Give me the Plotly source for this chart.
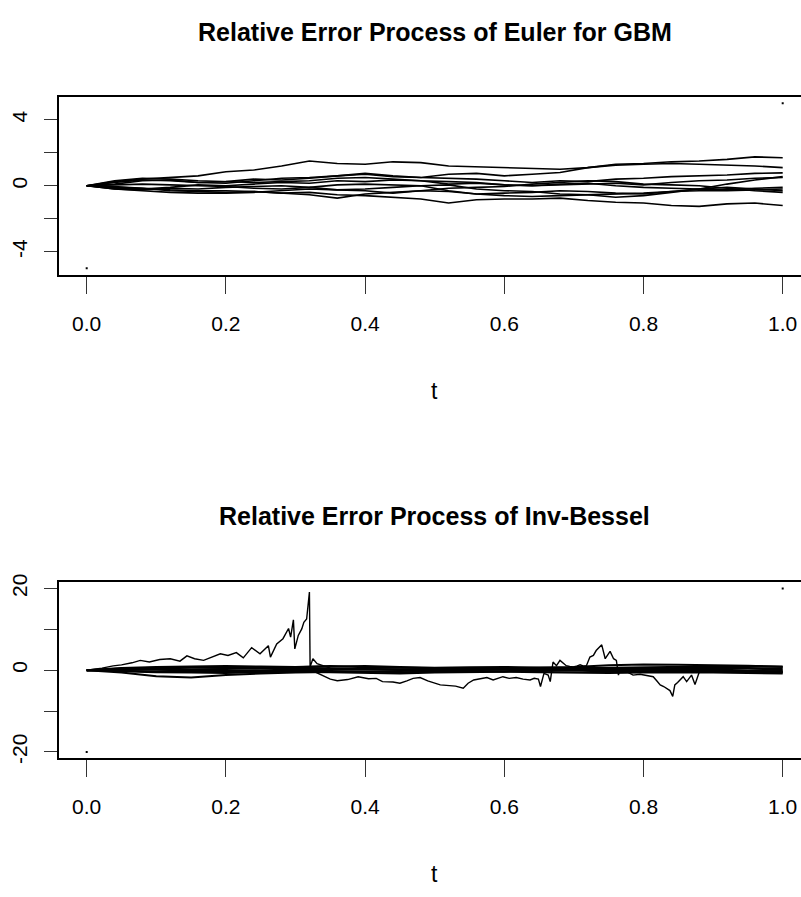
import plotly.graph_objects as go

# ---------------- data: top panel (Euler for GBM) ----------------
T_TOP = [0, 0.04, 0.08, 0.12, 0.16, 0.2, 0.24, 0.28, 0.32, 0.36, 0.4, 0.44, 0.48,
         0.52, 0.56, 0.6, 0.64, 0.68, 0.72, 0.76, 0.8, 0.84, 0.88, 0.92, 0.96, 1.0]
EULER_P1 = [0, 0.25, 0.4, 0.5, 0.6, 0.85, 0.95, 1.2, 1.5, 1.35, 1.3, 1.45, 1.4, 1.2, 1.15, 1.1, 1.05, 1.0, 1.1, 1.3, 1.35, 1.45, 1.5, 1.6, 1.75, 1.7]
EULER_P2 = [0, 0.1, 0.3, 0.35, 0.2, 0.25, 0.4, 0.35, 0.45, 0.6, 0.7, 0.55, 0.5, 0.7, 0.75, 0.6, 0.7, 0.8, 1.1, 1.25, 1.3, 1.35, 1.3, 1.25, 1.2, 1.1]
EULER_P3 = [0, 0.2, 0.35, 0.3, 0.2, 0.15, 0.3, 0.45, 0.5, 0.6, 0.75, 0.6, 0.5, 0.45, 0.4, 0.3, 0.2, 0.3, 0.25, 0.4, 0.45, 0.55, 0.6, 0.65, 0.75, 0.78]
EULER_P4 = [0, -0.15, -0.2, -0.1, 0.05, 0.0, 0.1, 0.2, 0.15, 0.3, 0.25, 0.35, 0.3, 0.1, 0.15, 0.05, 0.0, 0.05, 0.1, 0.15, 0.05, 0.2, 0.3, 0.35, 0.45, 0.5]
EULER_P5 = [0, -0.1, -0.15, -0.25, -0.3, -0.3, -0.35, -0.45, -0.4, -0.55, -0.6, -0.7, -0.8, -1.05, -0.85, -0.8, -0.8, -0.75, -0.9, -1.0, -1.05, -1.2, -1.25, -1.1, -1.05, -1.2]
EULER_P6 = [0, -0.05, -0.15, -0.3, -0.35, -0.4, -0.35, -0.45, -0.55, -0.75, -0.5, -0.4, -0.3, -0.35, -0.5, -0.45, -0.4, -0.3, -0.35, -0.45, -0.5, -0.35, -0.2, -0.1, -0.2, -0.3]
EULER_P7 = [0, 0.3, 0.45, 0.4, 0.3, 0.25, 0.2, 0.25, 0.3, 0.45, 0.5, 0.4, 0.3, 0.25, 0.2, 0.05, 0.0, 0.1, 0.15, 0.0, -0.1, -0.15, -0.2, -0.25, -0.15, -0.1]
EULER_P8 = [0, -0.2, -0.25, -0.15, -0.2, -0.1, -0.05, 0.0, -0.1, -0.25, -0.3, -0.45, -0.3, -0.15, -0.1, -0.05, 0.1, 0.2, 0.3, 0.25, 0.1, 0.05, 0.0, -0.15, -0.3, -0.4]
EULER_P9 = [0, 0.05, 0.1, 0.05, 0.0, -0.05, -0.15, -0.2, -0.1, 0.05, 0.1, 0.05, 0.0, 0.05, -0.2, -0.3, -0.35, -0.5, -0.55, -0.7, -0.6, -0.4, -0.2, 0.1, 0.35, 0.55]
EULER_P10 = [0, -0.2, -0.3, -0.4, -0.45, -0.45, -0.4, -0.3, -0.2, -0.25, -0.2, -0.1, 0.0, -0.3, -0.5, -0.6, -0.65, -0.6, -0.55, -0.5, -0.45, -0.35, -0.3, -0.3, -0.25, -0.2]
EULER_PATHS = [EULER_P1, EULER_P2, EULER_P3, EULER_P4, EULER_P5,
               EULER_P6, EULER_P7, EULER_P8, EULER_P9, EULER_P10]

# ---------------- data: bottom panel (Inv-Bessel) ----------------
T_BUNDLE = [0, 0.05, 0.1, 0.15, 0.2, 0.25, 0.3, 0.35, 0.4, 0.45, 0.5,
            0.55, 0.6, 0.65, 0.7, 0.75, 0.8, 0.85, 0.9, 0.95, 1.0]
BESSEL_B1 = [0, 0.5, 0.8, 0.9, 1.0, 0.9, 0.8, 1.0, 0.7, 0.6, 0.5, 0.4, 0.5, 0.6, 0.8, 1.2, 1.4, 1.3, 1.2, 1.1, 0.8]
BESSEL_B2 = [0, -0.6, -1.5, -1.8, -1.2, -0.8, -0.6, -0.4, -0.3, -0.5, -0.4, -0.2, -0.3, -0.1, 0.0, 0.2, 0.1, 0.0, -0.2, -0.3, -0.5]
BESSEL_B3 = [0, 0.3, 0.4, 0.2, 0.3, 0.5, 0.6, 0.4, 0.3, 0.2, 0.1, 0.3, 0.4, 0.3, 0.5, 0.4, 0.3, 0.5, 0.6, 0.5, 0.4]
BESSEL_B4 = [0, -0.3, -0.5, -0.6, -0.7, -0.5, -0.3, -0.5, -0.7, -0.8, -0.6, -0.5, -0.4, -0.5, -0.6, -0.7, -0.6, -0.5, -0.6, -0.7, -0.8]
BESSEL_B5 = [0, 0.2, 0.1, -0.1, -0.2, 0.0, 0.1, 0.3, 0.2, 0.0, -0.1, 0.1, 0.2, 0.1, 0.0, -0.1, 0.1, 0.2, 0.1, 0.0, 0.1]
BESSEL_B6 = [0, -0.1, -0.3, -0.2, -0.4, -0.3, -0.1, -0.2, -0.3, -0.2, 0.0, -0.2, -0.3, -0.2, -0.1, -0.3, -0.4, -0.3, -0.2, -0.3, -0.2]
BESSEL_B7 = [0, 0.4, 0.6, 0.7, 0.5, 0.6, 0.8, 0.9, 1.0, 0.8, 0.6, 0.7, 0.8, 0.6, 0.5, 0.6, 0.7, 0.8, 0.9, 1.0, 0.9]
BESSEL_BUNDLE = [BESSEL_B1, BESSEL_B2, BESSEL_B3, BESSEL_B4, BESSEL_B5, BESSEL_B6, BESSEL_B7]

T_SPIKE = [0, 0.01, 0.022, 0.038, 0.05, 0.065, 0.077, 0.09, 0.105, 0.12, 0.134, 0.144, 0.155,
           0.168, 0.18, 0.192, 0.203, 0.215, 0.225, 0.237, 0.249, 0.261, 0.264, 0.273, 0.282,
           0.29, 0.293, 0.297, 0.299, 0.304, 0.309, 0.312, 0.316, 0.32, 0.321, 0.325, 0.331,
           0.35, 0.4, 0.45, 0.5, 0.55, 0.6, 0.65, 0.7, 0.75, 0.8, 0.85, 0.9, 0.95, 1.0]
BESSEL_SPIKE = [0, 0.2, 0.5, 1.06, 1.3, 1.8, 2.4, 2.0, 2.6, 2.8, 2.2, 3.5, 2.8, 2.4, 3.2, 4.0,
                3.6, 4.3, 3.0, 5.5, 4.0, 6.0, 3.2, 6.4, 7.7, 10.2, 8.1, 12.3, 5.2, 8.5, 10.1,
                11.7, 12.5, 19.1, 0.8, 2.8, 1.6, 0.5, 0.3, 0.2, 0.4, 0.3, 0.1, 0.2, 0.0, -0.2,
                0.1, 0.0, -0.3, -0.4, -0.6]

T_SWING = [0, 0.05, 0.1, 0.15, 0.2, 0.25, 0.3, 0.32, 0.335, 0.35, 0.36, 0.375, 0.39, 0.405,
           0.416, 0.425, 0.44, 0.45, 0.46, 0.469, 0.479, 0.49, 0.508, 0.52, 0.53, 0.541, 0.548,
           0.556, 0.565, 0.575, 0.584, 0.59, 0.598, 0.607, 0.617, 0.627, 0.637, 0.643, 0.649,
           0.652, 0.657, 0.663, 0.666, 0.670, 0.675, 0.68, 0.685, 0.689, 0.694, 0.699, 0.704,
           0.709, 0.714, 0.718, 0.723, 0.728, 0.732, 0.736, 0.74, 0.745, 0.749, 0.752, 0.757,
           0.761, 0.764, 0.766, 0.775, 0.785, 0.795, 0.805, 0.814, 0.819, 0.824, 0.829, 0.833,
           0.838, 0.842, 0.845, 0.849, 0.852, 0.857, 0.862, 0.866, 0.869, 0.874, 0.879, 0.881,
           0.9, 0.92, 0.94, 0.96, 0.98, 1.0]
BESSEL_SWING = [0, -0.2, -0.4, -0.3, -0.2, -0.3, -0.2, 0.2, -1.0, -2.2, -2.6, -2.3, -1.6, -2.1,
                -2.0, -2.8, -2.9, -3.2, -2.6, -2.0, -1.8, -2.6, -3.6, -3.8, -3.9, -4.4, -3.2,
                -2.4, -2.2, -1.8, -2.4, -2.0, -1.6, -2.0, -1.8, -2.2, -2.4, -2.0, -2.2, -4.0,
                -0.8, -1.2, -2.8, 2.0, 1.1, 2.4, 1.6, 1.1, 0.9, 0.8, 1.0, 1.3, 1.0, 1.1, 3.2,
                3.6, 4.8, 5.6, 6.2, 2.8, 4.0, 4.6, 2.8, 2.4, -1.2, 0.0, -0.3, -1.2, -1.0, -1.4,
                -1.6, -2.6, -3.6, -4.0, -4.4, -5.0, -6.4, -3.6, -3.0, -2.4, -1.6, -2.8, -2.0,
                -1.2, -3.5, -0.8, 0.0, -0.4, -0.2, -0.5, -0.3, -0.6, -0.4]

assert len(T_SPIKE) == len(BESSEL_SPIKE)
assert len(T_SWING) == len(BESSEL_SWING)

RANGE_T = [0, 1]
TOP_RANGE_Y = [-5, 5]
BOT_RANGE_Y = [-20, 20]

TOP_YTICKS = [-4, -2, 0, 2, 4]
TOP_YLABELS = ["-4", "", "0", "", "4"]
BOT_YTICKS = [-20, -10, 0, 10, 20]
BOT_YLABELS = ["-20", "", "0", "", "20"]
XTICKS = [0, 0.2, 0.4, 0.6, 0.8, 1.0]
XLABELS = ["0.0", "0.2", "0.4", "0.6", "0.8", "1.0"]

TITLE_TOP = "Relative Error Process of Euler for GBM"
TITLE_BOT = "Relative Error Process of Inv-Bessel"

# ---------------- figure ----------------
W, H = 801, 897
LINE_TOP = dict(color="black", width=1.6)
LINE_BOT = dict(color="black", width=1.4)
LINE_BUNDLE = dict(color="black", width=2.0)
fig = go.Figure()

for p in EULER_PATHS:
    fig.add_trace(go.Scatter(x=T_TOP, y=p, mode="lines", line=LINE_TOP, xaxis="x", yaxis="y",
                             showlegend=False, hoverinfo="skip"))
fig.add_trace(go.Scatter(x=RANGE_T, y=TOP_RANGE_Y, mode="markers",
                         marker=dict(symbol="square", size=2, color="black"),
                         xaxis="x", yaxis="y", showlegend=False))

for p in BESSEL_BUNDLE:
    fig.add_trace(go.Scatter(x=T_BUNDLE, y=p, mode="lines", line=LINE_BUNDLE, xaxis="x2",
                             yaxis="y2", showlegend=False, hoverinfo="skip"))
fig.add_trace(go.Scatter(x=T_SPIKE, y=BESSEL_SPIKE, mode="lines", line=LINE_BOT,
                         xaxis="x2", yaxis="y2", showlegend=False))
fig.add_trace(go.Scatter(x=T_SWING, y=BESSEL_SWING, mode="lines", line=LINE_BOT,
                         xaxis="x2", yaxis="y2", showlegend=False))
fig.add_trace(go.Scatter(x=RANGE_T, y=BOT_RANGE_Y, mode="markers",
                         marker=dict(symbol="square", size=2, color="black"),
                         xaxis="x2", yaxis="y2", showlegend=False))

# pixel geometry
x_left = 58.7
x0_px, x1_px = 86.7, 782.7
ppu = (x1_px - x0_px)
xr = [(x_left - x0_px) / ppu, (W - x0_px) / ppu]
xdom = [x_left / W, 1.0]

def ydom(top_px, bot_px):
    return [(H - bot_px) / H, (H - top_px) / H]

XFONT = dict(family="Liberation Sans, Arial, Helvetica", size=21, color="black")
YFONT = dict(family="Liberation Sans, Arial, Helvetica", size=21, color="black")

xcommon = dict(range=xr, domain=xdom, showgrid=False, zeroline=False, showline=True,
               linecolor="black", linewidth=1.5, mirror=True, ticks="outside", ticklen=17,
               tickwidth=1, tickcolor="#333333", tickvals=XTICKS, ticktext=XLABELS,
               tickfont=XFONT, ticklabelstandoff=12, ticklabeloverflow="allow")
ycommon = dict(showgrid=False, zeroline=False, showline=True, linecolor="black", linewidth=1.5,
               mirror=False, ticks="outside", ticklen=12.5, tickwidth=1, tickcolor="#333333",
               tickangle=-90, tickfont=YFONT, ticklabelstandoff=9)

fig.update_layout(
    width=W, height=H,
    margin=dict(l=0, r=0, t=0, b=0),
    plot_bgcolor="white", paper_bgcolor="white",
    xaxis=dict(**xcommon, anchor="y"),
    yaxis=dict(**ycommon, domain=ydom(90, 270.7), range=[-5.4, 5.4],
               tickvals=TOP_YTICKS, ticktext=TOP_YLABELS, anchor="x"),
    xaxis2=dict(**xcommon, anchor="y2"),
    yaxis2=dict(**ycommon, domain=ydom(582.3, 761.5), range=[-21.6, 21.6],
                tickvals=BOT_YTICKS, ticktext=BOT_YLABELS, anchor="x2"),
)

cx = ((x_left + (x0_px + 1.04 * ppu)) / 2) / W
TFONT = dict(family="Liberation Sans, Arial, Helvetica", size=25, color="black", weight="bold")
LFONT = dict(family="Liberation Sans, Arial, Helvetica", size=23, color="black")
for text, ypx, fnt in [(TITLE_TOP, 24, TFONT), (TITLE_BOT, 515, TFONT),
                       ("t", 389, LFONT), ("t", 879, LFONT)]:
    fig.add_annotation(text=text, x=cx, y=(H - ypx) / H, xref="paper", yref="paper",
                       xanchor="center", yanchor="middle", showarrow=False, font=fnt)

fig.write_html("out.html", config={"displayModeBar": False},
               post_script="document.body.style.margin='0';document.body.style.overflow='hidden';")
